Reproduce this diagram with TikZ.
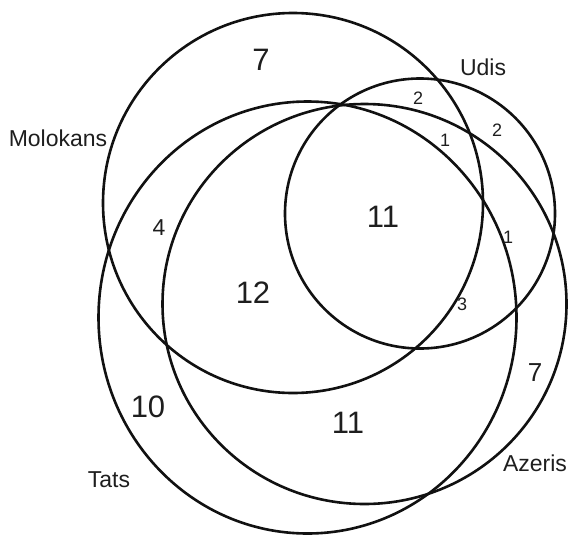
\documentclass[tikz,border=0pt]{standalone}
\usepackage{fontspec}
\setmainfont{Liberation Sans}
\usepackage{tikz}
\usetikzlibrary{positioning}
\definecolor{ink}{HTML}{111111}
\definecolor{numink}{HTML}{1E1E1E}
\tikzset{
  % --- sets
  set/.style   = {line width=2.6pt, draw=ink},
  % --- texts
  lbl/.style   = {font=\fontsize{23}{27}\selectfont, text=numink, inner sep=0pt},
  big/.style   = {font=\fontsize{31}{36}\selectfont, text=numink, inner sep=0pt},
  mid/.style   = {font=\fontsize{26}{30}\selectfont, text=numink, inner sep=0pt},
  small/.style = {font=\fontsize{18}{21}\selectfont, text=numink, inner sep=0pt},
}
\begin{document}
\begin{tikzpicture}[x=1pt,y=-1pt]
  \useasboundingbox (0,0) rectangle (569,535);
  % centres of the four sets
  \coordinate (molokans) at (293,203);
  \coordinate (udis)     at (420,213.5);
  \coordinate (tats)     at (307.5,317.5);
  \coordinate (azeris)   at (364.5,304);
  \draw[set] (molokans) circle [radius=190];
  \draw[set] (udis)     circle [radius=135];
  \draw[set] (tats)     ellipse [x radius=209, y radius=216];
  \draw[set] (azeris)   ellipse [x radius=202, y radius=200];
  % set names
  \node[lbl] (lmol)  at (58,138)  {Molokans};
  \node[lbl] (ludi)  at (483,67)  {Udis};
  \node[lbl] (ltat)  at (109,480) {Tats};
  \node[lbl] (laze)  at (535,463) {Azeris};
  % counts
  \node[big]   (nmol)  at (261,60)  {7};
  \node[big]   (nall)  at (383,217) {11};
  \node[big]   (nmt)   at (253,293) {12};
  \node[big]   (ntat)  at (148,407) {10};
  \node[big]   (nta)   at (348,423) {11};
  \node[mid]   (naze)  at (535,373) {7};
  \node[lbl]   (nm4)   at (159,228) {4};
  \node[small] (nmu)   at (418,98)  {2};
  \node[small] (nmua)  at (445,140) {1};
  \node[small] (nudi)  at (497,130) {2};
  \node[small] (nua)   at (508,237) {1};
  \node[small] (nuta)  at (462,304) {3};
\end{tikzpicture}
\end{document}
